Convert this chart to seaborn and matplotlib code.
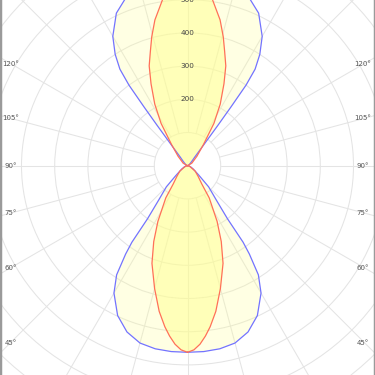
import numpy as np
import pandas as pd
import matplotlib
matplotlib.use("Agg")
import matplotlib.pyplot as plt
from matplotlib.patches import Circle
import seaborn as sns

# --- Data (candela, angle from nadir / zenith) ---
# C0-C180 plane (blue), lower hemisphere: angle from nadir
blue_lower_deg = [0, 5, 10, 15, 20, 25, 30, 33, 35, 36, 37, 40, 45, 50, 60, 70, 80, 90]
blue_lower_cd = [562, 562, 560, 553, 533, 498, 443, 392, 325, 285, 200, 135, 90, 45, 20, 10, 4, 0]
# upper hemisphere: angle from zenith
blue_upper_deg = [0, 5, 10, 15, 20, 25, 30, 33, 35, 36, 36.5, 37, 38, 40, 45, 60, 90]
blue_upper_cd = [568, 567, 563, 555, 540, 507, 450, 400, 355, 300, 220, 150, 75, 35, 18, 6, 0]

# C90-C270 plane (red)
red_lower_deg = [0, 2, 4, 6, 8, 11, 15, 20, 24, 28, 34, 38, 45, 55, 70, 90]
red_lower_cd = [562, 555, 539, 516, 490, 447, 383, 313, 250, 190, 117, 70, 45, 28, 8, 0]
red_upper_deg = [0, 2, 4, 8.6, 12.6, 15.5, 18, 21, 24, 28, 32, 37, 45, 60, 90]
red_upper_cd = [572, 566, 550, 505, 450, 403, 362, 322, 270, 210, 150, 80, 40, 15, 0]

ring_values = [100, 200, 300, 400, 500, 600, 700, 800, 900]
ring_labels = [200, 300, 400, 500]
angle_labels = [45, 60, 75, 90, 105, 120]


def outline(lower_deg, lower_cd, upper_deg, upper_cd):
    # gamma measured from nadir, 0..180, right half then mirrored left half
    gamma = np.array(list(lower_deg) + [180 - a for a in upper_deg[::-1]], dtype=float)
    cd = np.array(list(lower_cd) + list(upper_cd[::-1]), dtype=float)
    g = np.radians(gamma)
    xr, y = cd * np.sin(g), -cd * np.cos(g)
    x = np.concatenate([xr, -xr[::-1]])
    y = np.concatenate([y, y[::-1]])
    return pd.DataFrame({"x": x, "y": y})


sns.set_style("white")
fig = plt.figure(figsize=(3.75, 3.75), dpi=100)
ax = fig.add_axes([0, 0, 1, 1])

px = 0.332  # pixels per candela
ax.set_xlim(-187.5 / px, 187.5 / px)
ax.set_ylim(-209.3 / px, 165.7 / px)

# grid: rings and spokes
grid_col = "#e4e4e4"
for r in ring_values:
    ax.add_patch(Circle((0, 0), r, fill=False, ec=grid_col, lw=0.75, zorder=1))
for a in range(0, 360, 15):
    t = np.radians(a)
    ax.plot([100 * np.sin(t), 1200 * np.sin(t)], [-100 * np.cos(t), -1200 * np.cos(t)],
            color=grid_col, lw=0.75, zorder=1)

blue = outline(blue_lower_deg, blue_lower_cd, blue_upper_deg, blue_upper_cd)
red = outline(red_lower_deg, red_lower_cd, red_upper_deg, red_upper_cd)

ax.fill(blue["x"], blue["y"], color="#ffff90", alpha=0.25, lw=0, zorder=2)
ax.fill(red["x"], red["y"], color="#ffff90", alpha=0.5, lw=0, zorder=3)
sns.lineplot(data=blue, x="x", y="y", sort=False, estimator=None, color="#7373ff", lw=0.9, ax=ax, zorder=4)
sns.lineplot(data=red, x="x", y="y", sort=False, estimator=None, color="#ff7058", lw=0.9, ax=ax, zorder=5)

for r in ring_labels:
    ax.text(0, r, str(r), ha="center", va="center", fontsize=5.2, color="#444444", zorder=6)

for a in angle_labels:
    yy = -533 / np.tan(np.radians(a)) if a != 90 else 0
    ax.text(-533, yy, f"{a}°", ha="center", va="center", fontsize=5, color="#555555", zorder=6)
    ax.text(528, yy, f"{a}°", ha="center", va="center", fontsize=5, color="#555555", zorder=6)

ax.set_xlabel("")
ax.set_ylabel("")
ax.set_xticks([])
ax.set_yticks([])
for side in ["top", "bottom"]:
    ax.spines[side].set_visible(False)
for side in ["left", "right"]:
    ax.spines[side].set_color("#9a9a9a")
    ax.spines[side].set_linewidth(2.5)

fig.savefig("out.png", dpi=100)
